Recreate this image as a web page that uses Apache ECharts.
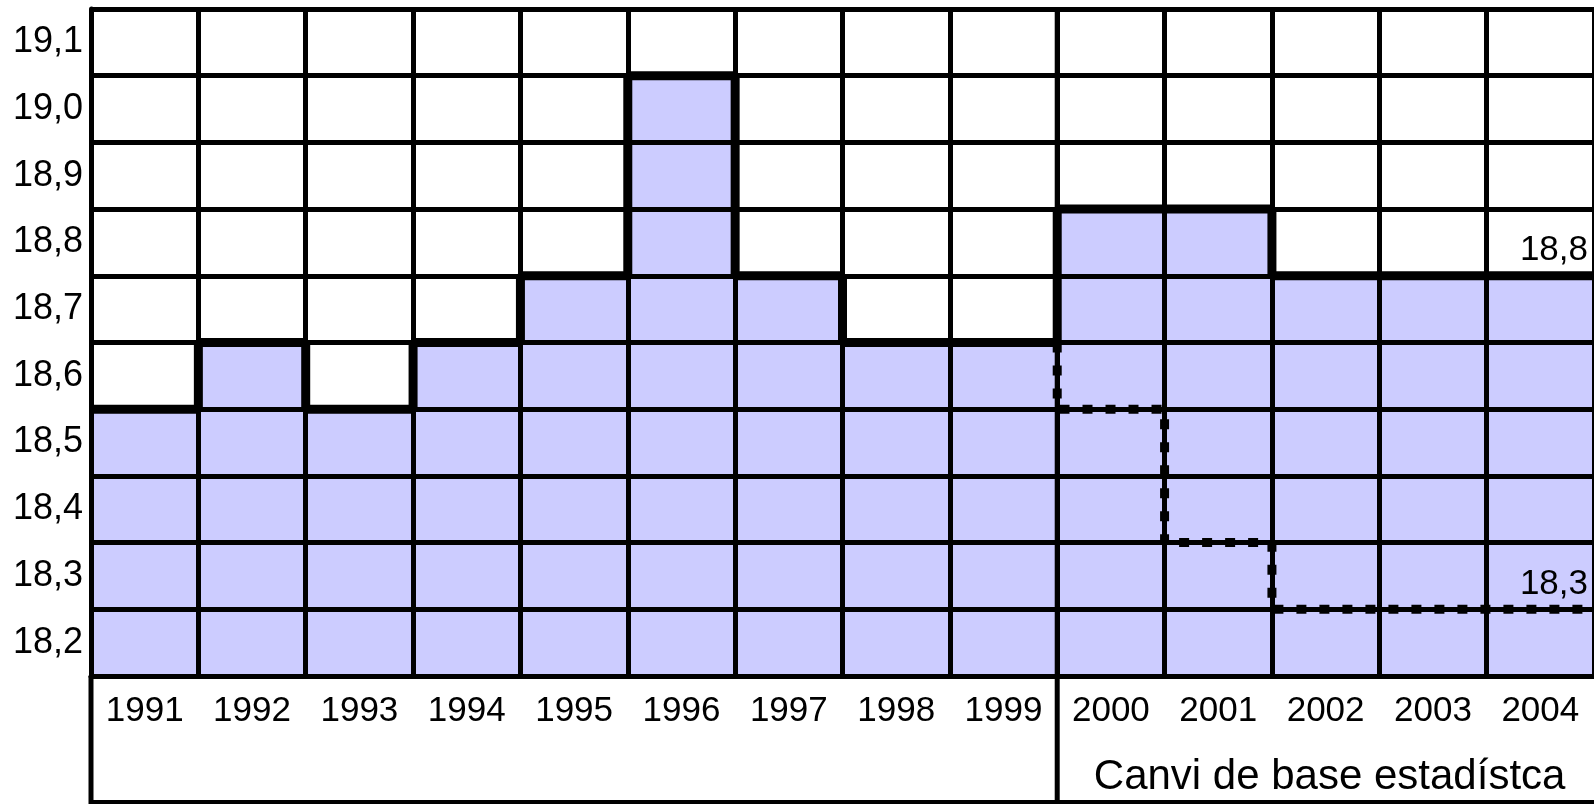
<!DOCTYPE html>
<html>
<head>
<meta charset="utf-8">
<script src="https://cdn.jsdelivr.net/npm/echarts@6/dist/echarts.min.js"></script>
<style>
  html, body { margin: 0; padding: 0; background: #fff; }
  #chart { width: 1594px; height: 804px; }
</style>
</head>
<body>
<div id="chart"></div>
<script>
// data
const years = ["1991", "1992", "1993", "1994", "1995", "1996", "1997", "1998", "1999", "2000", "2001", "2002", "2003", "2004"];
const values = [18.6, 18.7, 18.6, 18.7, 18.8, 19.1, 18.8, 18.7, 18.7, 18.9, 18.9, 18.8, 18.8, 18.8];
// new statistical base, from 2000 on
const newBaseStart = 9;
const newBase = [18.6, 18.4, 18.3, 18.3, 18.3];
const yLabels = ["18,2", "18,3", "18,4", "18,5", "18,6", "18,7", "18,8", "18,9", "19,0", "19,1"];
const baseChangeText = "Canvi de base estadístca";

const font = "'Liberation Sans', Arial, sans-serif";
const fmt = (v) => v.toFixed(1).replace(".", ",");

let chart = echarts.init(document.getElementById("chart"));

let endLabel = {
  show: true,
  position: "left",
  distance: 6,
  offset: [0, -25],
  color: "#000",
  fontSize: 35,
  fontFamily: font,
  formatter: (p) => fmt(p.value[1]),
};

// solid step outline, from left edge of first column to right edge of last
let stepData = values.map((v, i) => [i, v]);
stepData.push({ value: [values.length, values[values.length - 1]], label: endLabel });

// dotted outline for the new base
let dotData = [[newBaseStart, values[newBaseStart - 1]]];
newBase.forEach((v, i) => dotData.push([newBaseStart + i, v]));
dotData.push({ value: [values.length, newBase[newBase.length - 1]], label: endLabel });

let option = {
  animation: false,
  grid: { left: 91, right: -2, top: 9, bottom: 128 },
  xAxis: [
    {
      type: "category",
      data: years,
      boundaryGap: true,
      z: 3,
      axisTick: { show: false },
      axisLine: { lineStyle: { color: "#000", width: 5 } },
      splitLine: { show: true, lineStyle: { color: "#000", width: 5 } },
      axisLabel: { color: "#000", fontSize: 35, fontFamily: font, margin: 18 },
    },
    { type: "value", min: 0, max: values.length, show: false },
  ],
  yAxis: [
    {
      type: "value",
      min: 18.2,
      max: 19.2,
      interval: 0.1,
      z: 3,
      axisLabel: { show: false },
      axisTick: { show: false },
      axisLine: { show: true, lineStyle: { color: "#000", width: 5 } },
      splitLine: { show: true, lineStyle: { color: "#000", width: 5 } },
    },
    {
      type: "category",
      data: yLabels,
      boundaryGap: true,
      position: "left",
      axisLine: { show: false },
      axisTick: { show: false },
      splitLine: { show: false },
      axisLabel: { color: "#000", fontSize: 36, fontFamily: font, margin: 8 },
    },
  ],
  series: [
    {
      type: "bar",
      data: values,
      barWidth: "100%",
      barCategoryGap: "0%",
      z: 1,
      itemStyle: { color: "#ccccff" },
    },
    {
      type: "line",
      xAxisIndex: 1,
      yAxisIndex: 0,
      step: "end",
      data: stepData,
      z: 5,
      symbolSize: 0,
      lineStyle: { color: "#000", width: 9, cap: "butt" },
      itemStyle: { color: "#000" },
    },
    {
      type: "line",
      xAxisIndex: 1,
      yAxisIndex: 0,
      step: "end",
      data: dotData,
      z: 5,
      symbolSize: 0,
      lineStyle: { color: "#000", width: 9, type: [10, 13], cap: "butt" },
      itemStyle: { color: "#000" },
    },
  ],
};
chart.setOption(option);

// table under the plot: left border, base-change separator, bottom line, note
let x0 = chart.convertToPixel({ xAxisIndex: 1 }, 0);
let xs = chart.convertToPixel({ xAxisIndex: 1 }, newBaseStart);
let yb = chart.convertToPixel({ yAxisIndex: 0 }, 18.2);
let yt = chart.convertToPixel({ yAxisIndex: 0 }, 19.2);
chart.setOption({
  graphic: [
    { type: "line", z: 10, shape: { x1: x0, y1: yb, x2: x0, y2: 804 }, style: { stroke: "#000", lineWidth: 5 } },
    { type: "line", z: 10, shape: { x1: xs, y1: yt, x2: xs, y2: 804 }, style: { stroke: "#000", lineWidth: 5 } },
    { type: "line", z: 10, shape: { x1: x0, y1: 802, x2: 1594, y2: 802 }, style: { stroke: "#000", lineWidth: 4 } },
    {
      type: "text",
      z: 10,
      x: (xs + 1594) / 2 + 4,
      y: 777,
      style: {
        text: baseChangeText,
        fill: "#000",
        font: "42px " + font,
        align: "center",
        verticalAlign: "middle",
      },
    },
  ],
});
</script>
</body>
</html>
